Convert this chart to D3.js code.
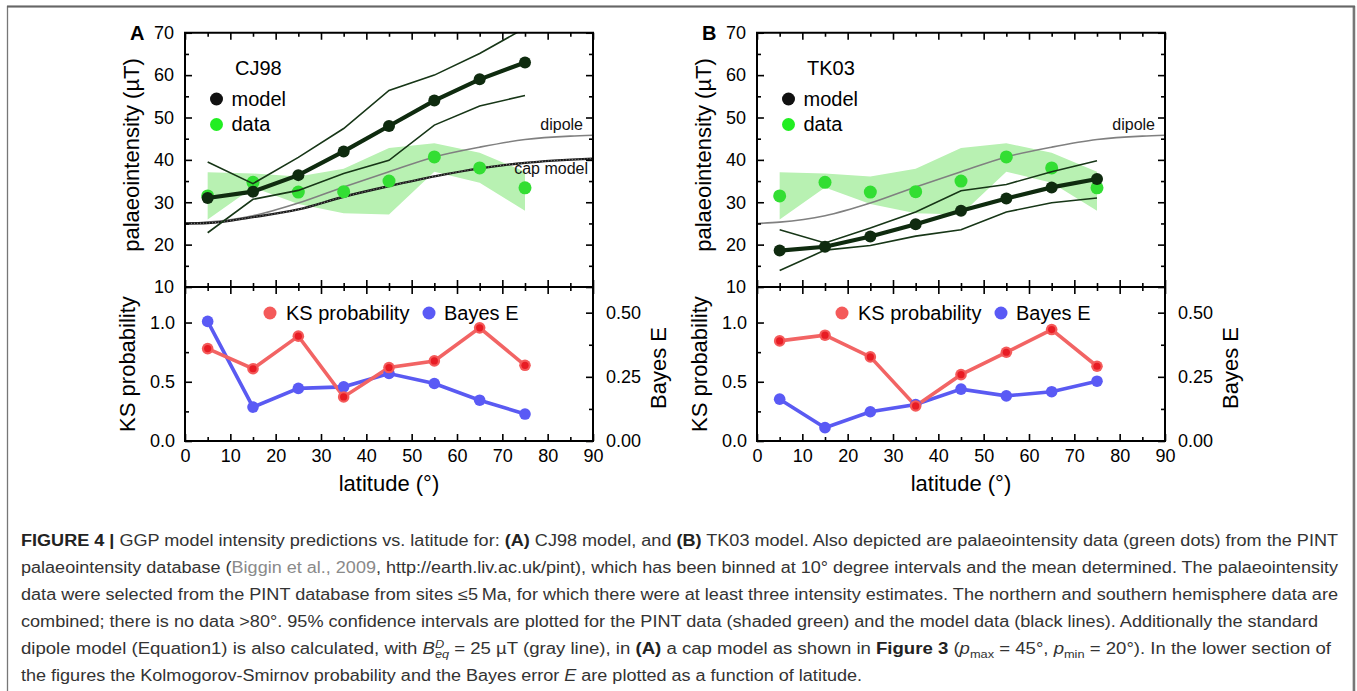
<!DOCTYPE html>
<html><head><meta charset="utf-8">
<script src="https://cdn.jsdelivr.net/npm/d3@7"></script>
<style>
html,body{margin:0;padding:0;background:#fff;}
svg{display:block;font-family:"Liberation Sans",Arial,Helvetica,sans-serif;}
</style></head><body>
<svg id="fig" width="1357" height="691"></svg>
<script>
// Binned latitudes (degrees) and axis ticks
const latitude = [5, 15, 25, 35, 45, 55, 65, 75];
const xMajor = [0, 10, 20, 30, 40, 50, 60, 70, 80, 90];
const xMinor = [5, 15, 25, 35, 45, 55, 65, 75, 85];
const yMajor = [10, 20, 30, 40, 50, 60, 70];
const yMinor = [15, 25, 35, 45, 55, 65];
const ksMajor = [0, 0.5, 1.0];
const ksMinor = [0.25, 0.75];
const eMajor = [0, 0.25, 0.5];
const eMinor = [0.125, 0.375];

// PINT palaeointensity data (uT): bin means and 95% interval
const pintMean  = [31.5, 34.7, 32.4, 32.5, 35.0, 40.7, 38.1, 33.4];
const pintUpper = [37.1, 36.8, 36.1, 37.9, 42.8, 43.9, 41.7, 37.2];
const pintLower = [25.9, 33.5, 29.6, 27.4, 27.1, 37.2, 34.6, 28.0];

// CJ98 model intensity and 95% interval
const cj98Model = [31.0, 32.5, 36.4, 42.0, 48.0, 54.0, 59.0, 63.0];
const cj98Upper = [39.5, 34.4, 40.6, 47.4, 56.4, 60.0, 65.1, 71.1];
const cj98Lower = [22.8, 30.7, 32.8, 36.8, 39.9, 48.2, 52.7, 55.2];

// TK03 model intensity and 95% interval
const tk03Model = [18.6, 19.5, 21.9, 24.8, 28.0, 30.9, 33.5, 35.5];
const tk03Upper = [23.5, 20.4, 23.9, 27.7, 32.7, 34.2, 37.2, 39.8];
const tk03Lower = [13.9, 18.7, 19.8, 22.0, 23.5, 27.7, 29.9, 31.0];

// Reference curves: standard dipole and cap model
const dipoleLat = [0, 5, 15, 25, 35, 45, 55, 65, 75, 85, 90];
const dipoleVal = [25.0, 25.3, 26.8, 29.8, 33.6, 37.2, 40.7, 43.0, 44.8, 45.6, 45.8];
const capLat = [0, 5, 15, 25, 35, 45, 55, 65, 75, 90];
const capVal = [25.0, 25.1, 26.5, 28.3, 31.3, 33.8, 36.1, 38.0, 39.3, 40.3];

// Kolmogorov-Smirnov probability and Bayes error E
const ksCJ98 = [0.78, 0.61, 0.885, 0.372, 0.62, 0.676, 0.955, 0.639];
const bayesCJ98 = [0.466, 0.132, 0.205, 0.211, 0.263, 0.224, 0.159, 0.105];
const ksTK03 = [0.845, 0.893, 0.71, 0.296, 0.56, 0.749, 0.941, 0.631];
const bayesTK03 = [0.163, 0.052, 0.114, 0.142, 0.202, 0.176, 0.192, 0.233];

const svg = d3.select("#fig");
const W = 408, TOP = 32.75, MID = 287, BOT = 441;
const TICK = 18;

// caption frame
svg.append("rect").attr("x", 7.5).attr("y", 6.5).attr("width", 1346).attr("height", 720)
  .attr("fill", "none").attr("stroke", "#777").attr("stroke-width", 1.3);
svg.append("line").attr("x1", 1354).attr("x2", 1354).attr("y1", 6).attr("y2", 691)
  .attr("stroke", "#777").attr("stroke-width", 2.5);
svg.append("line").attr("x1", 7).attr("x2", 1355).attr("y1", 6.5).attr("y2", 6.5)
  .attr("stroke", "#666").attr("stroke-width", 2);

function styleAxis(sel, labels) {
  sel.select(".domain").remove();
  sel.selectAll(".tick line").attr("stroke", "#000").attr("stroke-width", 1.6);
  sel.selectAll(".tick text").attr("font-size", TICK)
    .attr("font-family", "Liberation Sans, Arial, sans-serif").attr("fill", "#000");
  if (!labels) sel.selectAll(".tick text").remove();
}

function addAxis(axisGen, scale, values, size, pad, fmt, tx, ty, labels) {
  const a = axisGen(scale).tickValues(values).tickSize(size).tickPadding(pad);
  if (fmt) a.tickFormat(fmt);
  svg.append("g").attr("transform", `translate(${tx},${ty})`).call(a)
    .call(s => styleAxis(s, labels));
}

function panel(o) {
  const L = o.left, R = L + W;
  const x = d3.scaleLinear().domain([0, 90]).range([L, R]);
  const y = d3.scaleLinear().domain([10, 70]).range([MID, TOP]);
  const yKS = d3.scaleLinear().domain([0, 1.3]).range([BOT, MID]);
  const yE = d3.scaleLinear().domain([0, 0.6]).range([BOT, MID]);

  const clipId = "clip" + o.tag;
  svg.append("clipPath").attr("id", clipId).append("rect")
    .attr("x", L).attr("y", TOP).attr("width", W).attr("height", MID - TOP);
  const up = svg.append("g").attr("clip-path", `url(#${clipId})`);

  // PINT confidence band
  up.append("path")
    .datum(latitude.map((d, i) => [d, pintLower[i], pintUpper[i]]))
    .attr("d", d3.area().x(d => x(d[0])).y0(d => y(d[1])).y1(d => y(d[2])))
    .attr("fill", "#b8f1b2");

  // dipole curve
  up.append("path").datum(dipoleLat.map((d, i) => [d, dipoleVal[i]]))
    .attr("d", d3.line().x(d => x(d[0])).y(d => y(d[1])).curve(d3.curveMonotoneX))
    .attr("fill", "none").attr("stroke", "#808080").attr("stroke-width", 1.6);

  if (o.cap) {
    const capLine = d3.line().x(d => x(d[0])).y(d => y(d[1])).curve(d3.curveMonotoneX);
    const capData = capLat.map((d, i) => [d, capVal[i]]);
    up.append("path").datum(capData).attr("d", capLine)
      .attr("fill", "none").attr("stroke", "#1a1a1a").attr("stroke-width", 2.4);
    up.append("path").datum(capData).attr("d", capLine)
      .attr("fill", "none").attr("stroke", "#bbb").attr("stroke-width", 0.7)
      .attr("stroke-dasharray", "1,2");
  }

  // PINT means
  up.selectAll(null).data(latitude).enter().append("circle")
    .attr("cx", d => x(d)).attr("cy", (d, i) => y(pintMean[i])).attr("r", 6.5)
    .attr("fill", "#33de33");

  // model interval lines
  const ln = d3.line().x((d, i) => x(latitude[i])).y(d => y(d));
  [o.upper, o.lower].forEach(arr => {
    up.append("path").datum(arr).attr("d", ln)
      .attr("fill", "none").attr("stroke", "#173617").attr("stroke-width", 1.6);
  });
  up.append("path").datum(o.model).attr("d", ln)
    .attr("fill", "none").attr("stroke", "#0f2b0f").attr("stroke-width", 4.2);
  up.selectAll(null).data(o.model).enter().append("circle")
    .attr("cx", (d, i) => x(latitude[i])).attr("cy", d => y(d)).attr("r", 6)
    .attr("fill", "#0f2b0f");

  // lower panel: KS probability and Bayes E
  const lnKS = d3.line().x((d, i) => x(latitude[i])).y(d => yKS(d));
  const lnE = d3.line().x((d, i) => x(latitude[i])).y(d => yE(d));
  svg.append("path").datum(o.bayes).attr("d", lnE)
    .attr("fill", "none").attr("stroke", "#5a5af2").attr("stroke-width", 3.6);
  svg.append("path").datum(o.ks).attr("d", lnKS)
    .attr("fill", "none").attr("stroke", "#f26464").attr("stroke-width", 3.6);
  svg.selectAll(null).data(o.bayes).enter().append("circle")
    .attr("cx", (d, i) => x(latitude[i])).attr("cy", d => yE(d)).attr("r", 5.8)
    .attr("fill", "#5a5af5");
  svg.selectAll(null).data(o.ks).enter().append("circle")
    .attr("cx", (d, i) => x(latitude[i])).attr("cy", d => yKS(d)).attr("r", 5.8)
    .attr("fill", "#f45a5a");
  svg.selectAll(null).data(o.ks).enter().append("circle")
    .attr("cx", (d, i) => x(latitude[i])).attr("cy", d => yKS(d)).attr("r", 3.6)
    .attr("fill", "#e81c24");

  // frames
  svg.append("rect").attr("x", L).attr("y", TOP).attr("width", W).attr("height", BOT - TOP)
    .attr("fill", "none").attr("stroke", "#000").attr("stroke-width", 2);
  svg.append("line").attr("x1", L).attr("x2", R).attr("y1", MID).attr("y2", MID)
    .attr("stroke", "#000").attr("stroke-width", 2);

  // upper axes
  addAxis(d3.axisLeft, y, yMajor, -7, 11, null, L, 0, true);
  addAxis(d3.axisLeft, y, yMinor, -4, 11, null, L, 0, false);
  addAxis(d3.axisRight, y, yMajor, -7, 0, null, R, 0, false);
  addAxis(d3.axisRight, y, yMinor, -4, 0, null, R, 0, false);
  addAxis(d3.axisTop, x, xMajor, -7, 0, null, 0, TOP, false);
  addAxis(d3.axisTop, x, xMinor, -4, 0, null, 0, TOP, false);
  addAxis(d3.axisBottom, x, xMajor, -7, 0, null, 0, MID, false);
  addAxis(d3.axisBottom, x, xMinor, -4, 0, null, 0, MID, false);
  // lower axes
  addAxis(d3.axisTop, x, xMajor, -7, 0, null, 0, MID, false);
  addAxis(d3.axisTop, x, xMinor, -4, 0, null, 0, MID, false);
  addAxis(d3.axisBottom, x, xMajor, -7, 8, d3.format("d"), 0, BOT, true);
  addAxis(d3.axisBottom, x, xMinor, -4, 8, null, 0, BOT, false);
  addAxis(d3.axisLeft, yKS, ksMajor, -7, 10, d3.format(".1f"), L, 0, true);
  addAxis(d3.axisLeft, yKS, ksMinor, -4, 10, null, L, 0, false);
  addAxis(d3.axisRight, yE, eMajor, -7, 13, d3.format(".2f"), R, 0, true);
  addAxis(d3.axisRight, yE, eMinor, -4, 13, null, R, 0, false);

  // titles and labels
  svg.append("text").attr("x", L - 55).attr("y", 40).attr("font-size", 20)
    .attr("font-weight", "bold").attr("fill", "#000").text(o.tag);
  svg.append("text").attr("transform", `translate(${L - 46},155) rotate(-90)`)
    .attr("text-anchor", "middle").attr("font-size", 22).attr("fill", "#000")
    .text("palaeointensity (\u00b5T)");
  svg.append("text").attr("transform", `translate(${L - 50},364) rotate(-90)`)
    .attr("text-anchor", "middle").attr("font-size", 22).attr("fill", "#000")
    .text("KS probability");
  svg.append("text").attr("transform", `translate(${R + 73},368) rotate(-90)`)
    .attr("text-anchor", "middle").attr("font-size", 22).attr("fill", "#000")
    .text("Bayes E");
  svg.append("text").attr("x", L + 204).attr("y", 491).attr("text-anchor", "middle")
    .attr("font-size", 22).attr("fill", "#000").text("latitude (\u00b0)");

  // upper legend
  svg.append("text").attr("x", L + 50).attr("y", 75).attr("font-size", 20)
    .attr("fill", "#000").text(o.name);
  svg.append("circle").attr("cx", L + 31.5).attr("cy", 99).attr("r", 6.5).attr("fill", "#111");
  svg.append("text").attr("x", L + 46.5).attr("y", 105.5).attr("font-size", 20)
    .attr("fill", "#000").text("model");
  svg.append("circle").attr("cx", L + 31.5).attr("cy", 124.5).attr("r", 6.5).attr("fill", "#22ee22");
  svg.append("text").attr("x", L + 46.5).attr("y", 131).attr("font-size", 20)
    .attr("fill", "#000").text("data");
  svg.append("text").attr("x", L + 398).attr("y", 130).attr("text-anchor", "end")
    .attr("font-size", 16).attr("fill", "#111").text("dipole");
  if (o.cap) {
    svg.append("text").attr("x", L + 403).attr("y", 174).attr("text-anchor", "end")
      .attr("font-size", 16).attr("fill", "#111").text("cap model");
  }

  // lower legend
  svg.append("circle").attr("cx", L + 85).attr("cy", 313).attr("r", 6.5).attr("fill", "#f45a5a");
  svg.append("text").attr("x", L + 101).attr("y", 319.5).attr("font-size", 20)
    .attr("fill", "#000").text("KS probability");
  svg.append("circle").attr("cx", L + 244).attr("cy", 313).attr("r", 6.5).attr("fill", "#5a5af5");
  svg.append("text").attr("x", L + 259).attr("y", 319.5).attr("font-size", 20)
    .attr("fill", "#000").text("Bayes E");
}

panel({ left: 185, tag: "A", name: "CJ98", cap: true,
        model: cj98Model, upper: cj98Upper, lower: cj98Lower, ks: ksCJ98, bayes: bayesCJ98 });
panel({ left: 757, tag: "B", name: "TK03", cap: false,
        model: tk03Model, upper: tk03Upper, lower: tk03Lower, ks: ksTK03, bayes: bayesTK03 });

// caption
const capLines = [
  { end: 1338, parts: [["FIGURE 4 |", "b"], [" GGP model intensity predictions vs. latitude for: "], ["(A)", "b"],
      [" CJ98 model, and "], ["(B)", "b"], [" TK03 model. Also depicted are palaeointensity data (green dots) from the PINT"]] },
  { end: 1338, parts: [["palaeointensity database ("], ["Biggin et al., 2009", "g"],
      [", http://earth.liv.ac.uk/pint), which has been binned at 10\u00b0 degree intervals and the mean determined. The palaeointensity"]] },
  { end: 1338, parts: [["data were selected from the PINT database from sites \u22645\u2009Ma, for which there were at least three intensity estimates. The northern and southern hemisphere data are"]] },
  { end: 1318, parts: [["combined; there is no data >80\u00b0. 95% confidence intervals are plotted for the PINT data (shaded green) and the model data (black lines). Additionally the standard"]] },
  { end: 1331, parts: [["dipole model (Equation1) is also calculated, with "], ["B", "i"], ["D", "sup"], ["eq", "sub"],
      [" = 25 \u00b5T (gray line), in ", "base"], ["(A)", "b"], [" a cap model as shown in "], ["Figure 3", "b"],
      [" ("], ["p", "i"], ["max", "sub"], [" = 45\u00b0, ", "base"], ["p", "i"], ["min", "sub"], [" = 20\u00b0). In the lower section of", "base"]] },
  { end: 862, parts: [["the figures the Kolmogorov-Smirnov probability and the Bayes error "], ["E", "i"],
      [" are plotted as a function of latitude."]] }
];
const cap = svg.append("g").attr("font-size", 16).attr("fill", "#333");
capLines.forEach((line, li) => {
  const t = cap.append("text").attr("x", 21).attr("y", 545.5 + li * 27)
    .attr("textLength", line.end - 21).attr("lengthAdjust", "spacingAndGlyphs");
  let shift = 0;
  line.parts.forEach(([str, kind]) => {
    const s = t.append("tspan").text(str);
    if (kind === "b") s.attr("font-weight", "bold").attr("fill", "#222");
    if (kind === "g") s.attr("fill", "#8a8a8a");
    if (kind === "i") s.attr("font-style", "italic");
    if (kind === "sup") { s.attr("font-style", "italic").attr("font-size", 11).attr("dy", -6); shift = -6; }
    if (kind === "sub") {
      s.attr("font-size", 11).attr("font-style", str === "eq" ? "italic" : "normal");
      if (str === "eq") s.attr("dx", -8).attr("dy", 10), shift = 4;
      else s.attr("dy", 4), shift = 4;
    }
    if (kind === "base" && shift) { s.attr("dy", -shift); shift = 0; }
  });
});
</script>
</body></html>
